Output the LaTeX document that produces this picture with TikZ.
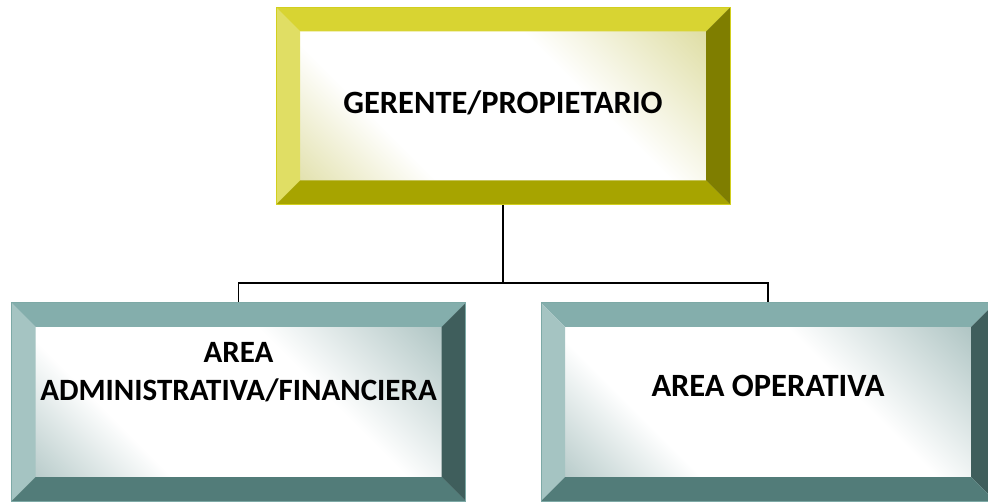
\documentclass[tikz,border=0pt]{standalone}
\usepackage{fontspec}
\setmainfont{Carlito}
\usepackage{tikz}
\usetikzlibrary{calc,positioning}
\definecolor{GoldTop}{HTML}{D8D432}
\definecolor{GoldLeft}{HTML}{E0DE64}
\definecolor{GoldRight}{HTML}{7F7E00}
\definecolor{GoldBottom}{HTML}{A7A400}
\definecolor{GoldEdge}{HTML}{D2CF1E}
\definecolor{GoldTint}{HTML}{CBC96C}
\definecolor{TealTop}{HTML}{84AEAC}
\definecolor{TealLeft}{HTML}{A5C4C2}
\definecolor{TealRight}{HTML}{3F5E5C}
\definecolor{TealBottom}{HTML}{527C79}
\definecolor{TealEdge}{HTML}{7DA9A6}
\definecolor{TealTint}{HTML}{7FA2A0}
\newcommand\BoxWidth{454pt}
\newcommand\BoxHeight{198pt}
\newcommand\Bev{24}
\pgfdeclarehorizontalshading{GoldGlow}{100bp}{color(0bp)=(GoldTint); color(32bp)=(white); color(62bp)=(white); color(100bp)=(GoldTint)}
\pgfdeclarehorizontalshading{TealGlow}{100bp}{color(0bp)=(TealTint); color(32bp)=(white); color(62bp)=(white); color(100bp)=(TealTint)}
\tikzset{bevelbox/.style={rectangle,draw=#1Edge,line width=1pt,
    minimum width=\BoxWidth,minimum height=\BoxHeight,align=center,
    font=\fontsize{32.5}{38}\selectfont\bfseries,
    path picture={
      \coordinate (nw) at (path picture bounding box.north west);
      \coordinate (ne) at (path picture bounding box.north east);
      \coordinate (sw) at (path picture bounding box.south west);
      \coordinate (se) at (path picture bounding box.south east);
      \shade[shading=#1Glow,shading angle=45] ($(nw)+(\Bev,-\Bev)$) rectangle ($(se)+(-\Bev,\Bev)$);
      \fill[#1Top] (nw) -- (ne) -- ($(ne)+(-\Bev,-\Bev)$) -- ($(nw)+(\Bev,-\Bev)$) -- cycle;
      \fill[#1Left] (nw) -- (sw) -- ($(sw)+(\Bev,\Bev)$) -- ($(nw)+(\Bev,-\Bev)$) -- cycle;
      \fill[#1Right] (ne) -- (se) -- ($(se)+(-\Bev,\Bev)$) -- ($(ne)+(-\Bev,-\Bev)$) -- cycle;
      \fill[#1Bottom] (sw) -- (se) -- ($(se)+(-\Bev,\Bev)$) -- ($(sw)+(\Bev,\Bev)$) -- cycle;
    }}}
\tikzstyle{wire}=[line width=1.5pt,black]

\begin{document}
\begin{tikzpicture}[x=1pt,y=1pt]
  \useasboundingbox (0,0) rectangle (988,-502);
  \node[bevelbox=Gold,minimum height=197pt,text depth=7pt] (boss) at (503,-106) {GERENTE/PROPIETARIO};
  \node[bevelbox=Teal,font=\fontsize{31}{38}\selectfont\bfseries,text depth=62pt] (admin) at (238.5,-402) {AREA\\ADMINISTRATIVA/FINANCIERA};
  \node[bevelbox=Teal,text depth=32pt] (oper) at (768,-402) {AREA OPERATIVA};
  \coordinate[below=78pt of boss] (split);
  \draw[wire] (boss.south) -- (split);
  \draw[wire] (split) -| (admin.north);
  \draw[wire] (split) -| (oper.north);
\end{tikzpicture}
\end{document}
